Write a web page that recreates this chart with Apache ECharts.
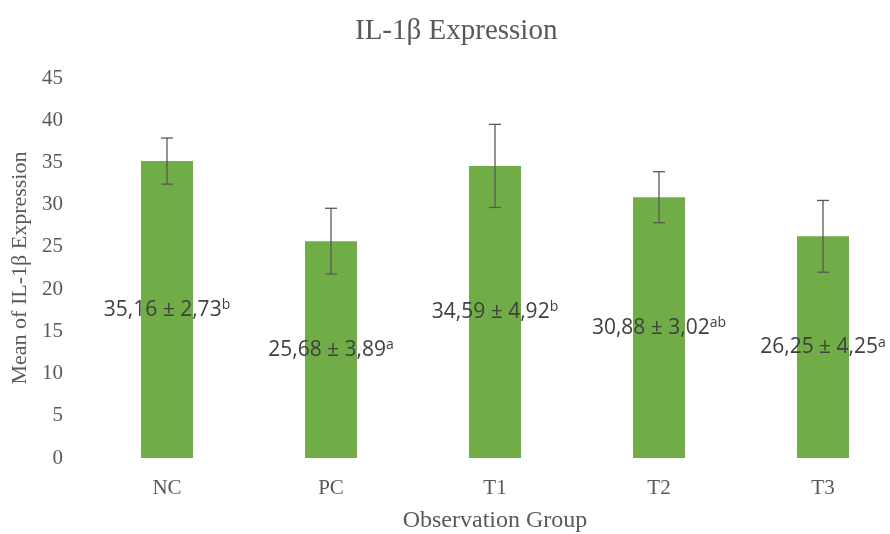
<!DOCTYPE html>
<html>
<head>
<meta charset="utf-8">
<script src="https://cdn.jsdelivr.net/npm/echarts@6/dist/echarts.min.js"></script>
<style>
  html, body { margin: 0; padding: 0; background: #fff; }
  #chart { width: 890px; height: 534px; }
</style>
</head>
<body>
<div id="chart"></div>
<script>
const groups = ["NC", "PC", "T1", "T2", "T3"];
const means = [35.16, 25.68, 34.59, 30.88, 26.25];
const sds = [2.73, 3.89, 4.92, 3.02, 4.25];
const letters = ["b", "a", "b", "ab", "a"];

const serif = "'Liberation Serif', 'Times New Roman', serif";
const sans = "'Open Sans', 'Noto Sans', sans-serif";
const grey = "#595959";

function fmt(v) {
  return v.toFixed(2).replace(".", ",");
}

const chart = echarts.init(document.getElementById("chart"), null, { renderer: "canvas" });

chart.setOption({
  animation: false,
  title: {
    text: "IL-1β Expression",
    left: 350,
    top: 12,
    textStyle: { fontFamily: serif, fontSize: 29, fontWeight: "normal", color: grey }
  },
  grid: { left: 85, top: 78, width: 820, height: 380, outerBoundsMode: "none", containLabel: false },
  xAxis: {
    type: "category",
    data: groups,
    name: "Observation Group",
    nameLocation: "middle",
    nameGap: 51,
    nameTextStyle: { fontFamily: serif, fontSize: 24, color: grey },
    axisLine: { show: false },
    axisTick: { show: false },
    axisLabel: { fontFamily: serif, fontSize: 21, color: grey, margin: 20 }
  },
  yAxis: {
    type: "value",
    min: 0,
    max: 45,
    interval: 5,
    name: "Mean of IL-1β Expression",
    nameLocation: "middle",
    nameGap: 52,
    nameTextStyle: { fontFamily: serif, fontSize: 22, color: grey },
    axisLine: { show: false },
    axisTick: { show: false },
    splitLine: { show: false },
    axisLabel: { fontFamily: serif, fontSize: 21, color: grey, margin: 22 }
  },
  series: [
    {
      type: "bar",
      data: means,
      barWidth: 52,
      itemStyle: { color: "#70AD47" },
      label: {
        show: true,
        position: "inside",
        formatter: (p) => fmt(means[p.dataIndex]) + " ± " + fmt(sds[p.dataIndex]) + "{sup|" + letters[p.dataIndex] + "}",
        fontFamily: sans,
        fontSize: 21,
        color: "#404040",
        rich: {
          sup: {
            fontFamily: sans,
            fontSize: 14,
            color: "#404040",
            verticalAlign: "top",
            padding: [0, 0, 9, 0]
          }
        }
      },
      z: 2
    },
    {
      type: "custom",
      data: means.map((m, i) => [i, m - sds[i], m + sds[i]]),
      renderItem: (params, api) => {
        const x = api.value(0);
        const lo = api.coord([x, api.value(1)]);
        const hi = api.coord([x, api.value(2)]);
        const cap = 6;
        const style = { stroke: grey, lineWidth: 1.3 };
        return {
          type: "group",
          children: [
            { type: "line", shape: { x1: hi[0], y1: hi[1], x2: lo[0], y2: lo[1] }, style },
            { type: "line", shape: { x1: hi[0] - cap, y1: hi[1], x2: hi[0] + cap, y2: hi[1] }, style },
            { type: "line", shape: { x1: lo[0] - cap, y1: lo[1], x2: lo[0] + cap, y2: lo[1] }, style }
          ]
        };
      },
      z: 3
    }
  ]
});
</script>
</body>
</html>
